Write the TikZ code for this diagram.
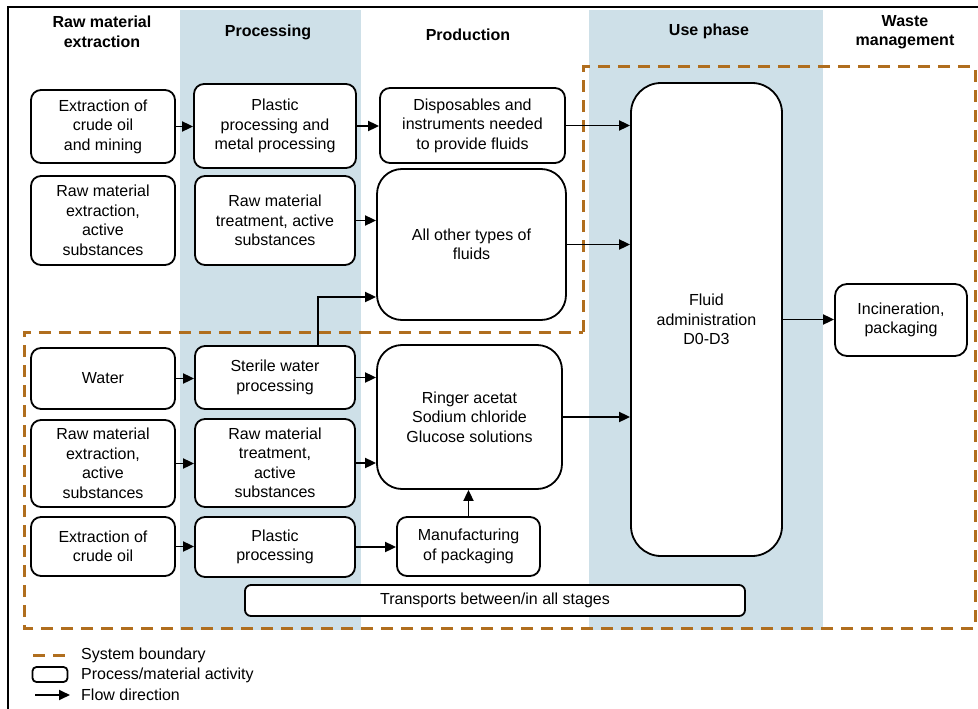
\documentclass[tikz,border=0pt]{standalone}
\usepackage{fontspec}
\setmainfont{Liberation Sans}
\usetikzlibrary{arrows.meta}
\definecolor{bandblue}{RGB}{206,224,232}
\definecolor{boundary}{RGB}{176,110,30}
\newcommand\diagfont{\fontsize{16}{19.5}\selectfont}
\begin{document}
\begin{tikzpicture}[x=1pt,y=-1pt,
  box/.style={draw, line width=1.8pt, rounded corners=10pt, fill=white, align=center, inner sep=0pt, font=\diagfont},
  wh/.style 2 args={minimum width=#1, minimum height=#2},
  bigbox/.style={box, rounded corners=25pt},
  arr/.style={line width=1.8pt, -{Triangle[length=11pt,width=10pt]}},
  bnd/.style={draw=boundary, line width=3pt, dash pattern=on 12pt off 8pt},
  head/.style={align=center, font=\diagfont\bfseries, inner sep=0pt},
  lgtext/.style={anchor=west, font=\diagfont, inner sep=0pt}]
\useasboundingbox (0,0) rectangle (978,709);
% bands
\fill[bandblue] (180,10) rectangle (361,630);
\fill[bandblue] (589,10) rectangle (823,630);
% frame
\draw[line width=2pt] (8,712) -- (8,7) -- (982,7);
% headers
\node[head] (h1) at (102,32) {Raw material\\extraction};
\node[head] (h2) at (268,32) {Processing};
\node[head] (h3) at (468,35) {Production};
\node[head] (h4) at (709,31) {Use phase};
\node[head] (h5) at (905,32) {Waste\\management};
% system boundary
\draw[bnd] (583,332) -- (583,67) -- (975,67) -- (975,628) -- (24,628) -- (24,332) -- cycle;
% column 1
\node[box, wh={144pt}{73pt}] (e1) at (103,126.5) {Extraction of\\crude oil\\and mining};
\node[box, wh={144pt}{89pt}] (e2) at (103,220.5) {Raw material\\extraction,\\active\\substances};
\node[box, wh={144pt}{61pt}] (e3) at (103,378.5) {Water};
\node[box, wh={144pt}{87pt}] (e4) at (103,463.5) {Raw material\\extraction,\\active\\substances};
\node[box, wh={144pt}{59pt}] (e5) at (103,546.5) {Extraction of\\crude oil};
% column 2
\node[box, wh={162pt}{84pt}] (p1) at (275,126) {Plastic\\processing and\\metal processing};
\node[box, wh={160pt}{89pt}] (p2) at (275,220.5) {Raw material\\treatment, active\\substances};
\node[box, wh={160pt}{63pt}] (p3) at (275,377.5) {Sterile water\\processing};
\node[box, wh={160pt}{88pt}] (p4) at (275,463) {Raw material\\treatment,\\active\\substances};
\node[box, wh={160pt}{60pt}] (p5) at (275,547) {Plastic\\processing};
% column 3
\node[box, wh={185pt}{75pt}] (d1) at (472.5,125.5) {Disposables and\\instruments needed\\to provide fluids};
\node[bigbox, wh={189pt}{151pt}] (d2) at (471.5,244.5) {All other types of\\fluids};
\node[bigbox, wh={185pt}{144pt}] (d3) at (469.5,417) {Ringer acetat\\Sodium chloride\\Glucose solutions};
\node[box, wh={143pt}{59pt}] (d4) at (468.5,546.5) {Manufacturing\\of packaging};
% use phase and waste
\node[box, rounded corners=30pt, wh={151pt}{473pt}] (F) at (706.5,319.5) {Fluid\\administration\\D0-D3};
\node[box, rounded corners=12pt, wh={132pt}{72pt}] (I) at (901,320) {Incineration,\\packaging};
\node[box, rounded corners=6pt, wh={500pt}{31pt}] (T) at (495,600.5) {Transports between/in all stages};
% flows
\draw[arr] (e1.east) -- (e1.east -| p1.west);
\draw[arr] (p1.east) -- (p1.east -| d1.west);
\draw[arr] (d1.east) -- (d1.east -| F.west);
\draw[arr] (p2.east) -- (p2.east -| d2.west);
\draw[arr] (d2.east) -- (d2.east -| F.west);
\draw[arr] ([xshift=43pt]p3.north) |- ([yshift=-52.5pt]d2.west);
\draw[arr] (e3.east) -- (e3.east -| p3.west);
\draw[arr] (p3.east) -- (p3.east -| d3.west);
\draw[arr] (e4.east) -- (e4.east -| p4.west);
\draw[arr] (p4.east) -- (p4.east -| d3.west);
\draw[arr] (d3.east) -- (d3.east -| F.west);
\draw[arr] (e5.east) -- (e5.east -| p5.west);
\draw[arr] (p5.east) -- (p5.east -| d4.west);
\draw[arr] (d4.north) -- (d4.north |- d3.south);
\draw[arr] (F.east) -- (F.east -| I.west);
% legend
\coordinate (lb1) at (33,655);
\coordinate (lb2) at (65,655);
\draw[bnd] (lb1) -- (lb2);
\node[box, rounded corners=4pt, wh={35pt}{15pt}] (lg) at (50,674.5) {};
\coordinate (la1) at (35,695);
\coordinate (la2) at (70,695);
\draw[arr] (la1) -- (la2);
\node[lgtext] (t1) at (81,655) {System boundary};
\node[lgtext] (t2) at (81,675) {Process/material activity};
\node[lgtext] (t3) at (81,695) {Flow direction};
\end{tikzpicture}
\end{document}
